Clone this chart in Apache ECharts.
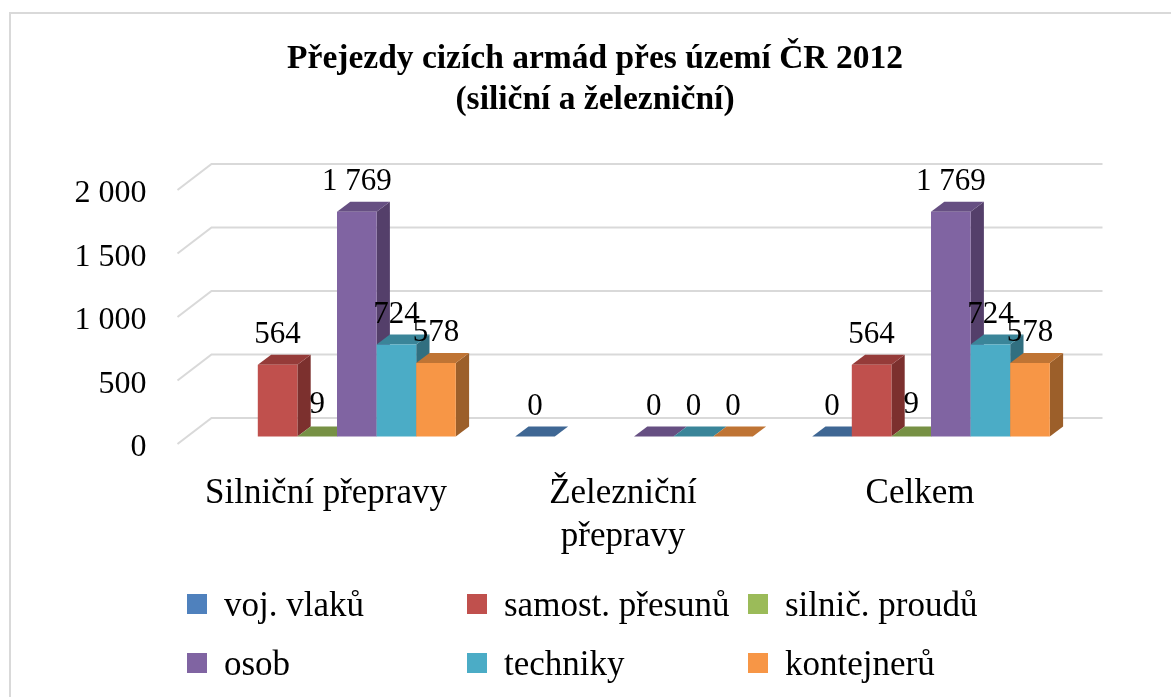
<!DOCTYPE html>
<html><head><meta charset="utf-8">
<style>html,body{margin:0;padding:0;background:#fff}#c{width:1171px;height:697px}</style>
<script src="https://cdn.jsdelivr.net/npm/echarts@6/dist/echarts.min.js"></script>
</head><body><div id="c"></div>
<script>
const categories = ['Silniční přepravy', 'Železniční\npřepravy', 'Celkem'];
const titleText = 'Přejezdy cizích armád přes území ČR 2012\n(siliční a železniční)';
const yTicks = [0, 500, 1000, 1500, 2000];
const vojVlaku = [null, 0, 0];
const samostPresunu = [564, null, 564];
const silnicProudu = [9, null, 9];
const osob = [1769, 0, 1769];
const techniky = [724, 0, 724];
const kontejneru = [578, 0, 578];
const seriesNames = ['voj. vlaků', 'samost. přesunů', 'silnič. proudů', 'osob', 'techniky', 'kontejnerů'];
const seriesValues = [vojVlaku, samostPresunu, silnicProudu, osob, techniky, kontejneru];
const frontColors = ['#4F81BD', '#C0504D', '#9BBB59', '#8064A2', '#4BACC6', '#F79646'];
const topColors = ['#3F6794', '#953B39', '#779145', '#664F82', '#3A8599', '#BF7434'];
const sideColors = ['#345579', '#7C302E', '#617638', '#543F6A', '#316F80', '#9C5F2A'];

const FONT = '"Liberation Serif", serif';
const WALL_DX = 34, WALL_DY = 26, SHIFT_X = 11, SHIFT_Y = 7.5, BAR_DX = 13.3, BAR_DY = 10;
const fmt = v => String(v).replace(/\B(?=(\d{3})+$)/g, ' ');

const wallSeries = {
  type: 'custom', name: 'walls', silent: true, z: 1, clip: false, legendHoverLink: false,
  data: yTicks.map(t => [0, t]),
  encode: { x: 0, y: 1 },
  renderItem(params, api) {
    const cs = params.coordSys;
    const y = api.coord([0, api.value(1)])[1];
    return { type: 'polyline', shape: { points: [[cs.x, y], [cs.x + WALL_DX, y - WALL_DY], [cs.x + cs.width + WALL_DX, y - WALL_DY]] },
      style: { fill: 'none', stroke: '#D9D9D9', lineWidth: 2 } };
  }
};

const barSeries = seriesNames.map((name, si) => ({
  type: 'custom', name, z: 2 + si, clip: false, silent: true,
  itemStyle: { color: frontColors[si] },
  data: seriesValues[si].map((v, ci) => [ci, v]),
  encode: { x: 0, y: 1 },
  renderItem(params, api) {
    const v = api.value(1);
    if (v === null || isNaN(v)) return;
    const base = api.coord([api.value(0), 0]);
    const top = api.coord([api.value(0), v]);
    const bw = api.size([1, 0])[0] / 7.5;
    const x0 = base[0] + SHIFT_X + (si - 3) * bw, x1 = x0 + bw;
    const yb = base[1] - SHIFT_Y;
    let yt = top[1] - SHIFT_Y;
    if (yb - yt < 2) yt = yb; // a sliver this thin shows only its top face
    return { type: 'group', children: [
      { type: 'polygon', shape: { points: [[x1, yb], [x1 + BAR_DX, yb - BAR_DY], [x1 + BAR_DX, yt - BAR_DY], [x1, yt]] }, style: { fill: sideColors[si] } },
      { type: 'polygon', shape: { points: [[x0, yt], [x0 + BAR_DX, yt - BAR_DY], [x1 + BAR_DX, yt - BAR_DY], [x1, yt]] }, style: { fill: topColors[si] } },
      { type: 'rect', shape: { x: x0, y: yt, width: bw, height: yb - yt }, style: { fill: frontColors[si] } },
      { type: 'text', z2: 100, style: { x: (x0 + x1) / 2, y: top[1] - SHIFT_Y - BAR_DY - 20, text: fmt(v), fill: '#000', font: '31px ' + FONT, align: 'center', verticalAlign: 'middle' } }
    ] };
  }
}));

const legendLefts = [187, 467, 748];
const legendTops = [589.5, 648.5];
const legends = seriesNames.map((name, i) => ({
  data: [{ name, icon: 'rect', itemStyle: { color: frontColors[i] } }],
  left: legendLefts[i % 3], top: legendTops[Math.floor(i / 3)],
  itemWidth: 20, itemHeight: 20, itemGap: 0, padding: 0, selectedMode: false,
  formatter: '{a|{name}}',
  textStyle: { rich: { a: { fontFamily: FONT, fontSize: 35, color: '#000', padding: [6, 0, 0, 12] } } }
}));

const chart = echarts.init(document.getElementById('c'), null, { renderer: 'canvas' });
chart.setOption({
  animation: false, backgroundColor: '#fff',
  title: { text: titleText, left: 590, top: 34, textAlign: 'center',
    textStyle: { fontFamily: FONT, fontSize: 33.5, fontWeight: 'bold', color: '#000', lineHeight: 41 } },
  legend: legends,
  grid: { left: 177.5, top: 190, width: 891, height: 254, containLabel: false },
  xAxis: { type: 'category', data: categories, axisLine: { show: false }, axisTick: { show: false }, splitLine: { show: false },
    axisLabel: { interval: 0, margin: 28, fontFamily: FONT, fontSize: 35, color: '#000', lineHeight: 43 } },
  yAxis: { type: 'value', min: 0, max: 2000, interval: 500, axisLine: { show: false }, axisTick: { show: false }, splitLine: { show: false },
    axisLabel: { margin: 31, fontFamily: FONT, fontSize: 32, color: '#000', formatter: fmt, verticalAlign: 'top', lineHeight: 8 } },
  graphic: [{ type: 'polyline', silent: true, z: -1, shape: { points: [[10, 697], [10, 13], [1171, 13]] }, style: { fill: 'none', stroke: '#D9D9D9', lineWidth: 2 } }],
  series: [wallSeries, ...barSeries]
});
</script></body></html>
